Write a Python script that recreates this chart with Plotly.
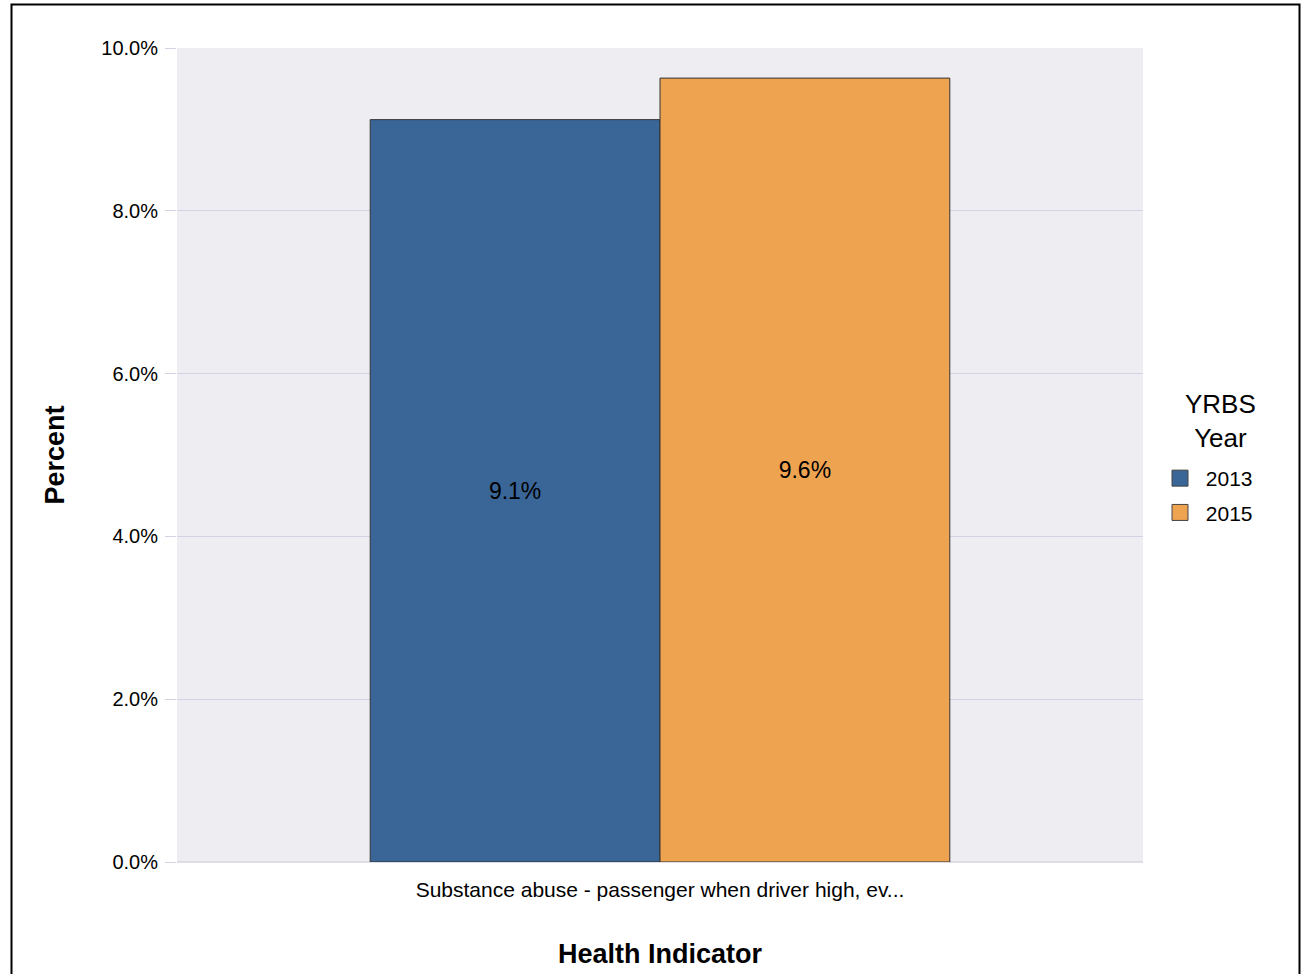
import plotly.graph_objects as go

categories = ["Substance abuse - passenger when driver high, ev..."]
years = ["2013", "2015"]
values_2013 = [9.12]
values_2015 = [9.63]
labels_2013 = ["9.1%"]
labels_2015 = ["9.6%"]
colors = {"2013": "#3a6597", "2015": "#eea351"}

FONT = "Arial, Liberation Sans, sans-serif"
fig = go.Figure()
for yr, vals, labs in [("2013", values_2013, labels_2013), ("2015", values_2015, labels_2015)]:
    fig.add_trace(go.Bar(
        x=categories, y=vals, name=yr, text=labs, textposition="inside",
        insidetextanchor="middle", showlegend=False,
        textfont=dict(family=FONT, size=23, color="black"),
        marker=dict(color=colors[yr], line=dict(color="#333333", width=1)),
    ))
# legend entries (larger square symbols)
for yr in years:
    fig.add_trace(go.Scatter(
        x=[categories[0]], y=[None], mode="markers", name="\u00a0" + yr, legendgroup=yr,
        marker=dict(symbol="square", size=18, color=colors[yr], line=dict(color="#444444", width=1)),
        hoverinfo="skip",
    ))

fig.update_layout(
    width=1308, height=974,
    margin=dict(l=177, r=165, t=48, b=112, autoexpand=False),
    barmode="group", bargap=0.4, bargroupgap=0,
    plot_bgcolor="#eeedf2", paper_bgcolor="white",
    font=dict(family=FONT, size=18, color="black"),
    showlegend=True,
    legend=dict(
        x=(1160 - 177) / 966, xanchor="left", y=(862 - 458) / 814, yanchor="top",
        font=dict(size=21), tracegroupgap=4,
    ),
    annotations=[dict(
        text="YRBS<br>Year", xref="paper", yref="paper",
        x=(1220 - 177) / 966, y=(862 - 421) / 814, xanchor="center", yanchor="middle",
        showarrow=False, font=dict(size=26, color="black"), align="center",
    )],
)
fig.update_yaxes(
    range=[0, 10], tickvals=[0, 2, 4, 6, 8, 10],
    ticktext=["0.0%", "2.0%", "4.0%", "6.0%", "8.0%", "10.0%"],
    gridcolor="#d3d1e3", gridwidth=1, zeroline=True, zerolinecolor="#dddde6", zerolinewidth=2,
    ticks="outside", ticklen=11, tickcolor="#d3d1e3", ticklabelstandoff=3,
    tickfont=dict(size=20), automargin=False,
    title=dict(text="<b>Percent</b>", font=dict(size=27), standoff=28),
)
fig.update_xaxes(
    tickfont=dict(size=21), showgrid=False, ticklabelstandoff=13, automargin=False,
    title=dict(text="<b>Health Indicator</b>", font=dict(size=27), standoff=44),
)
# outer frame
fig.add_shape(type="rect", xref="paper", yref="paper",
              x0=(11.5 - 177) / 966, x1=(1299.5 - 177) / 966,
              y0=(862 - 990) / 814, y1=(862 - 4.5) / 814,
              line=dict(color="black", width=2), fillcolor="rgba(0,0,0,0)", layer="above")

fig.write_html("out.html", config={"displayModeBar": False},
               post_script="document.body.style.margin='0';")
